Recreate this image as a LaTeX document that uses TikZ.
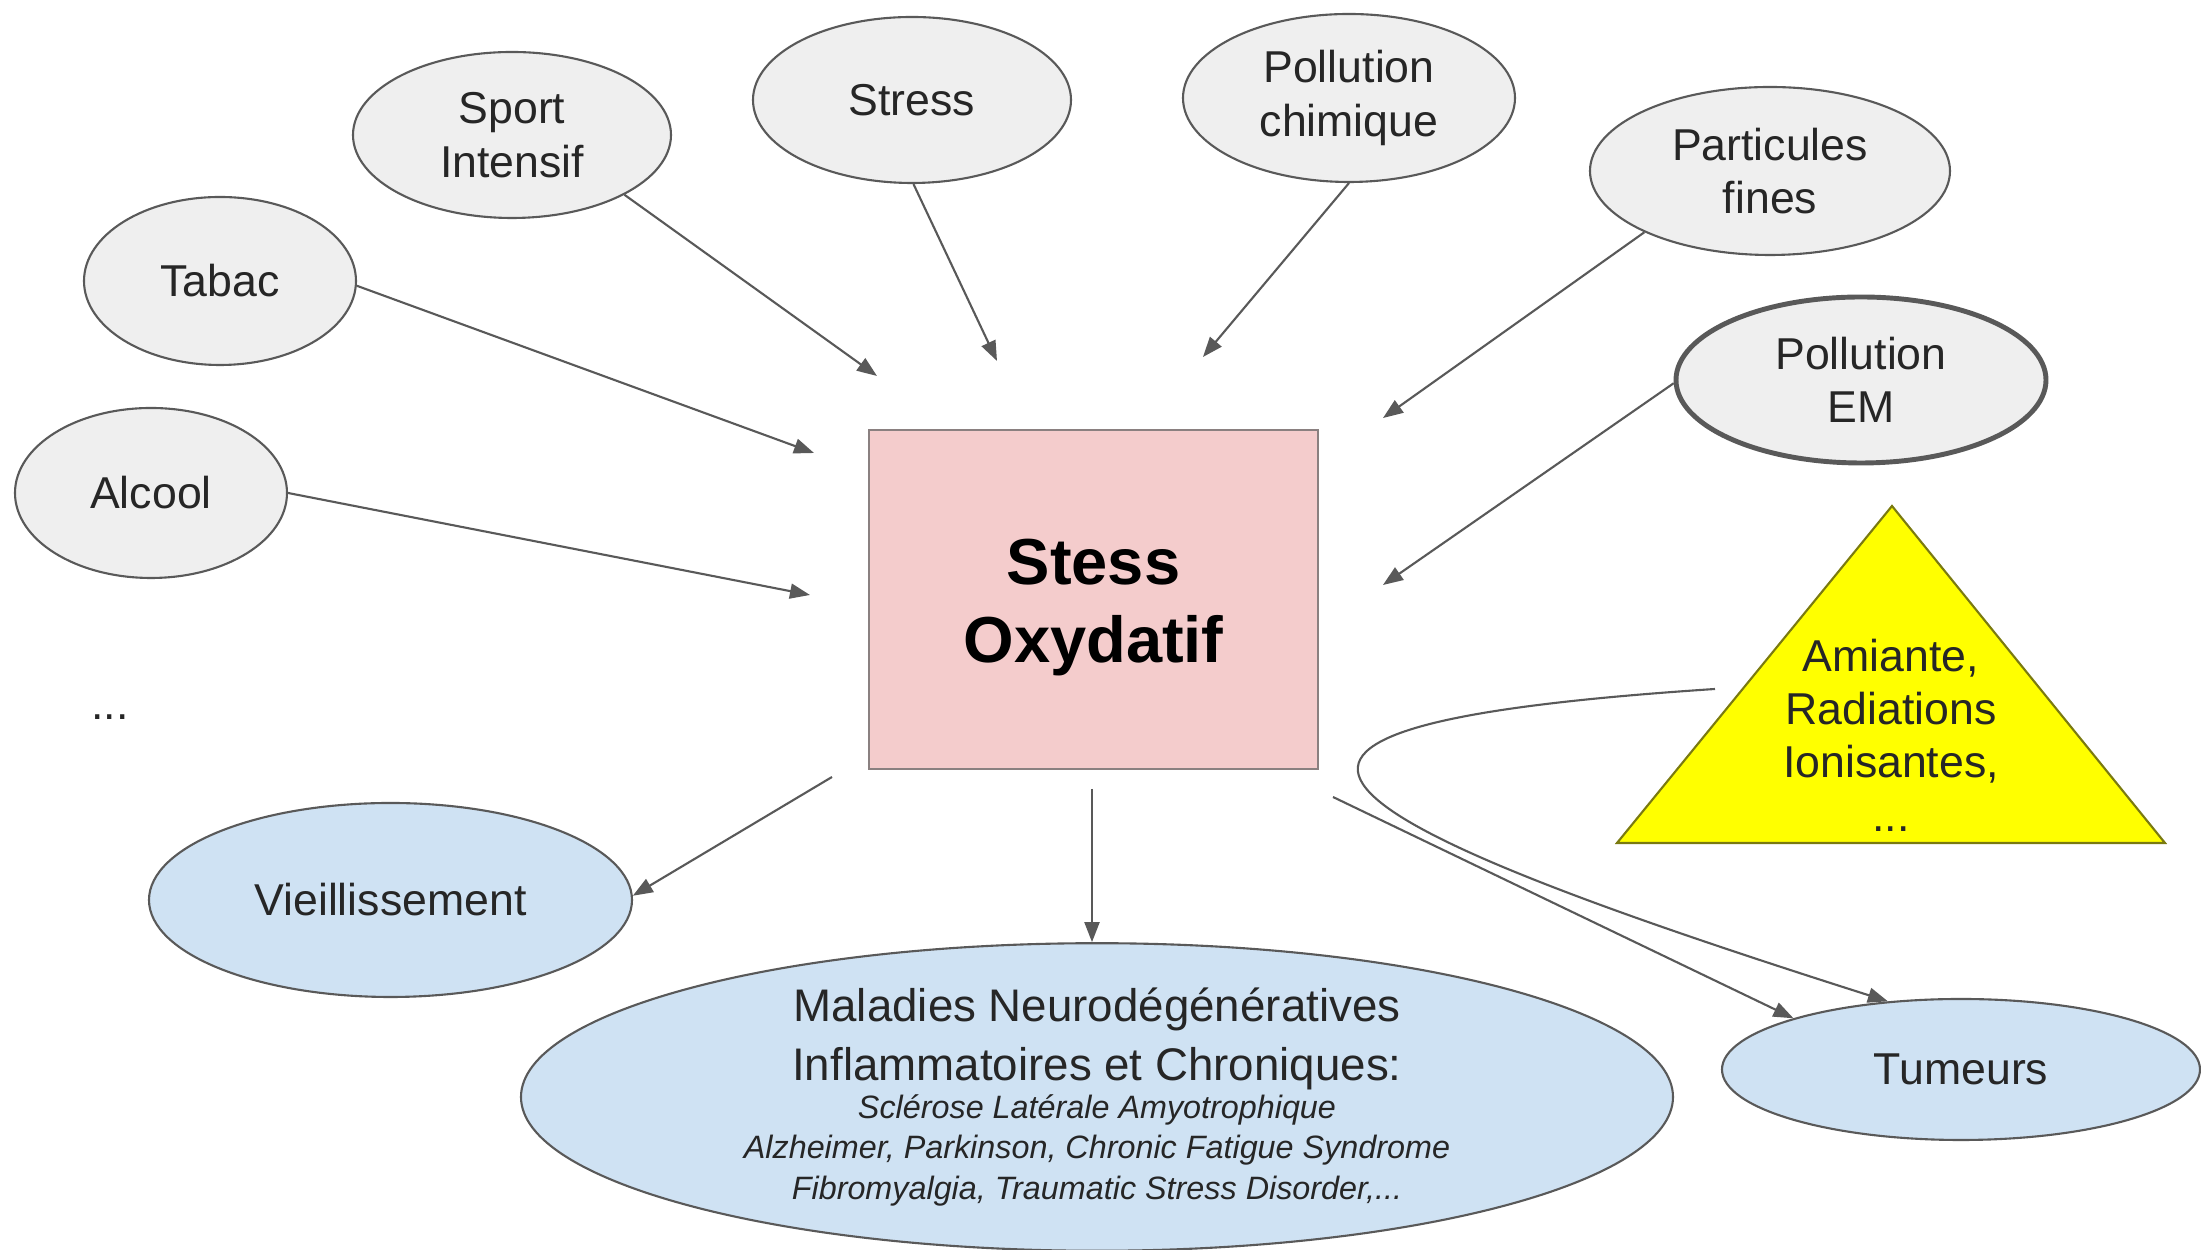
\documentclass[tikz,border=0pt]{standalone}
\usepackage{fontspec}
\setmainfont{Liberation Sans}
\usetikzlibrary{shapes.geometric,arrows.meta}
\definecolor{causegray}{HTML}{EFEFEF}
\definecolor{effectblue}{HTML}{CFE2F3}
\definecolor{stresspink}{HTML}{F4CCCC}
\definecolor{edgegray}{HTML}{595959}
\definecolor{boxgray}{HTML}{8A8080}
\definecolor{tryellow}{HTML}{FFFF00}
\definecolor{trolive}{HTML}{7A7A10}
\begin{document}
\begin{tikzpicture}[
	cause/.style={ellipse,draw=edgegray,fill=causegray,line width=0.6pt,inner sep=0pt,
		align=center,text=black!85,font={\fontsize{12.7}{15.2}\selectfont}},
	effect/.style={cause,fill=effectblue},
	fleche/.style={draw=edgegray,line width=0.6pt,-{Triangle[length=0.2cm,width=0.15cm]}}]
	\useasboundingbox (0,0) rectangle (22.01,12.5);
	% centre
	\node[draw=boxgray,fill=stresspink,line width=0.6pt,minimum width=4.49cm,minimum height=3.39cm,
		inner sep=0pt,align=center,font={\fontsize{18.5}{22}\selectfont\bfseries}] (stox) at (10.935,6.505)
		{\raisebox{-0.08cm}[\height][\depth]{Stess}\\\raisebox{-0.08cm}[\height][\depth]{Oxydatif}};
	% causes
	\node[cause,minimum width=3.18cm,minimum height=1.66cm] (sport) at (5.12,11.15) {Sport\\Intensif};
	\node[cause,minimum width=3.18cm,minimum height=1.66cm] (stress) at (9.12,11.50) {Stress};
	\node[cause,minimum width=3.32cm,minimum height=1.68cm] (pchim) at (13.49,11.52) {Pollution\\chimique};
	\node[cause,minimum width=3.60cm,minimum height=1.68cm] (partic) at (17.70,10.79) {Particules\\fines};
	\node[cause,minimum width=2.72cm,minimum height=1.68cm] (tabac) at (2.20,9.69) {Tabac};
	\node[cause,minimum width=2.72cm,minimum height=1.70cm] (alcool) at (1.51,7.57) {Alcool};
	\node[cause,line width=1.4pt,minimum width=3.70cm,minimum height=1.66cm] (pem) at (18.61,8.70) {Pollution\\EM};
	\node[text=black!85,font={\fontsize{12.7}{15.2}\selectfont}] (etc) at (1.10,5.33) {...};
	\draw[fill=tryellow,draw=trolive,line width=0.6pt] (18.92,7.44) -- (16.17,4.07) -- (21.65,4.07) -- cycle;
	\node[align=center,text=black!85,font={\fontsize{12.7}{15.2}\selectfont}] (amiante) at (18.91,5.15) {Amiante,\\Radiations\\Ionisantes,\\...};
	% effets
	\node[effect,minimum width=4.83cm,minimum height=1.94cm] (vieil) at (3.905,3.50) {Vieillissement};
	\node[effect,minimum width=11.52cm,minimum height=3.05cm,font={\fontsize{13}{15.2}\selectfont}] (mal) at (10.97,1.53)
		{Maladies Neurodégénératives\\[1.6pt]Inflammatoires et Chroniques:\\[-4.4pt]
		{\fontsize{9.2}{11}\selectfont\itshape Sclérose Latérale Amyotrophique}\\[-3.8pt]
		{\fontsize{9.2}{11}\selectfont\itshape Alzheimer, Parkinson, Chronic Fatigue Syndrome}\\[-3.8pt]
		{\fontsize{9.2}{11}\selectfont\itshape Fibromyalgia, Traumatic Stress Disorder,...}};
	\node[effect,minimum width=4.78cm,minimum height=1.41cm] (tum) at (19.61,1.805) {Tumeurs};
	% pointes et departs libres
	\coordinate (tSport) at (8.77,8.74);
	\coordinate (tStress) at (9.97,8.89);
	\coordinate (tPchim) at (12.03,8.93);
	\coordinate (tPartic) at (13.83,8.32);
	\coordinate (tTabac) at (8.14,7.97);
	\coordinate (tAlcool) at (8.10,6.55);
	\coordinate (tPem) at (13.83,6.65);
	\coordinate (dVieil) at (8.32,4.73);
	\coordinate (dMal) at (10.92,4.61);
	\coordinate (dTum) at (13.33,4.53);
	\coordinate (dAmiante) at (17.15,5.61);
	\draw[fleche] (sport.-28) -- (tSport);
	\draw[fleche] (stress.-89) -- (tStress);
	\draw[fleche] (pchim.south) -- (tPchim);
	\draw[fleche] (partic.206) -- (tPartic);
	\draw[fleche] (tabac.-2) -- (tTabac);
	\draw[fleche] (alcool.0) -- (tAlcool);
	\draw[fleche] (pem.181) -- (tPem);
	\draw[fleche] (dVieil) -- (vieil.1);
	\draw[fleche] (dMal) -- (dMal |- mal.north);
	\draw[fleche] (dTum) -- (tum.163);
	\draw[fleche] (dAmiante) .. controls (11.70,5.25) and (12.70,4.45) .. (tum.137);
\end{tikzpicture}
\end{document}
